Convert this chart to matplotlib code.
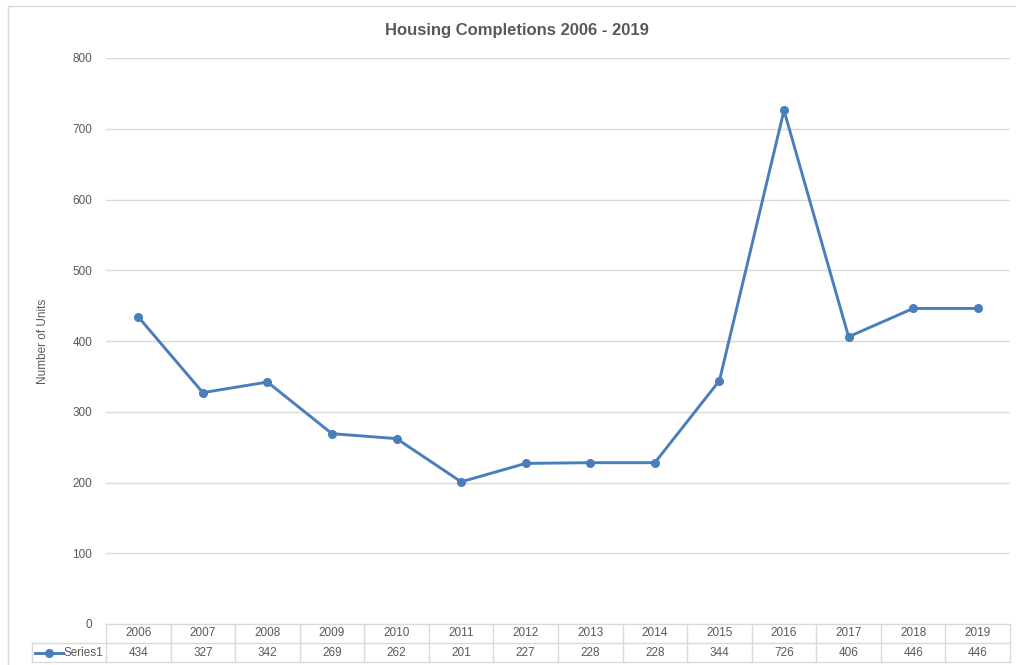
import matplotlib
matplotlib.use('Agg')
import matplotlib.pyplot as plt
from matplotlib.patches import Rectangle
from matplotlib.lines import Line2D

years = ['2006', '2007', '2008', '2009', '2010', '2011', '2012',
         '2013', '2014', '2015', '2016', '2017', '2018', '2019']
units = [434, 327, 342, 269, 262, 201, 227, 228, 228, 344, 726, 406, 446, 446]
series_name = 'Series1'
y_ticks = [0, 100, 200, 300, 400, 500, 600, 700, 800]

line_col = '#4a7ebb'
text_col = '#595959'
grid_col = '#d9d9d9'

plt.rcParams['font.family'] = ['Liberation Sans', 'DejaVu Sans']

W, H = 1016, 665
fig = plt.figure(figsize=(W / 100, H / 100), dpi=100)

# outer chart border
fig.patches.append(Rectangle((8 / W, -0.01), 1.1, (H - 6) / H + 0.01,
                             transform=fig.transFigure, fill=False,
                             edgecolor=grid_col, linewidth=1))

# plot area
ax = fig.add_axes([106 / W, 41 / H, 904 / W, 566 / H])
x = list(range(len(years)))
ax.plot(x, units, color=line_col, linewidth=2.1, marker='o', markersize=5.5,
        zorder=3, clip_on=False)
ax.set_xlim(-0.5, len(years) - 0.5)
ax.set_ylim(0, 800)
ax.set_yticks(y_ticks)
ax.set_xticks([])
for t in y_ticks[1:]:
    ax.axhline(t, color=grid_col, linewidth=1, zorder=1)
for s in ax.spines.values():
    s.set_visible(False)
ax.tick_params(axis='y', length=0, pad=10, labelsize=8.5, labelcolor=text_col)
ax.set_ylabel('Number of Units', color=text_col, fontsize=8.5, labelpad=17)
fig.text(517 / W, 1 - 30 / H, 'Housing Completions 2006 - 2019', ha='center',
         va='center', fontsize=12, fontweight='bold', color=text_col)

# data table under the plot
tab = fig.add_axes([106 / W, 3 / H, 904 / W, 38 / H])
tab.set_xlim(-0.5, len(years) - 0.5)
tab.set_ylim(0, 2)
tab.axis('off')
n = len(years)
key_left = -0.5 - 74 / (904 / n)
tab.plot([-0.5, n - 0.5], [2, 2], color=grid_col, lw=1, clip_on=False)
tab.plot([key_left, n - 0.5], [1, 1], color=grid_col, lw=1, clip_on=False)
tab.plot([key_left, n - 0.5], [0, 0], color=grid_col, lw=1, clip_on=False)
tab.plot([key_left, key_left], [0, 1], color=grid_col, lw=1, clip_on=False)
for i in range(n + 1):
    tab.plot([i - 0.5, i - 0.5], [0, 2], color=grid_col, lw=1, clip_on=False)
for i, (yr, v) in enumerate(zip(years, units)):
    tab.text(i, 1.5, yr, ha='center', va='center', fontsize=8.5, color=text_col)
    tab.text(i, 0.5, str(v), ha='center', va='center', fontsize=8.5, color=text_col)

# legend key in the table
kx0 = key_left + 0.05
kx1 = key_left + 0.48
tab.add_line(Line2D([kx0, kx1], [0.5, 0.5], color=line_col, lw=2.1, clip_on=False))
tab.plot([(kx0 + kx1) / 2], [0.5], marker='o', color=line_col, markersize=5.5,
         clip_on=False)
tab.text(kx1 + 0.01, 0.5, series_name, ha='left', va='center', fontsize=8.5,
         color=text_col)

fig.savefig('out.png', dpi=100)
